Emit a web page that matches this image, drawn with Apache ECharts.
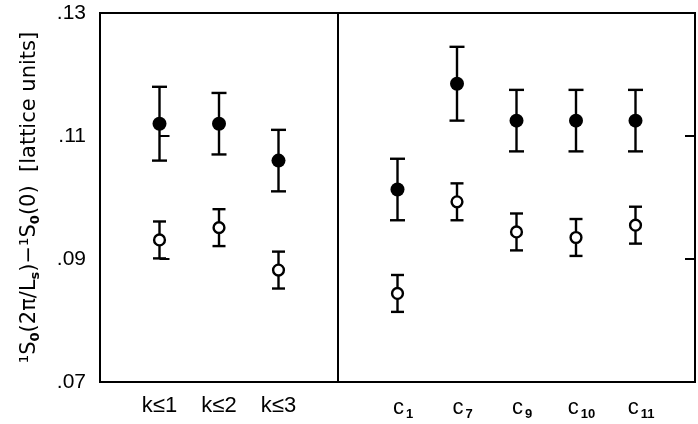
<!DOCTYPE html>
<html>
<head>
<meta charset="utf-8">
<script src="https://cdn.jsdelivr.net/npm/echarts@6/dist/echarts.min.js"></script>
<style>
html,body{margin:0;padding:0;background:#fff;}
#chart{width:698px;height:424px;}
</style>
</head>
<body>
<div id="chart"></div>
<script>
// Categories (empty slot = panel divider)
const categories = ['k≤1', 'k≤2', 'k≤3', '', 'c1', 'c7', 'c9', 'c10', 'c11'];
// Filled circles: value and error
const filledValues = [0.112, 0.112, 0.106, null, 0.1013, 0.1185, 0.1125, 0.1125, 0.1125];
const filledErrors = [0.006, 0.005, 0.005, null, 0.005, 0.006, 0.005, 0.005, 0.005];
// Open circles: value and error
const openValues = [0.0931, 0.0951, 0.0882, null, 0.0844, 0.0993, 0.0944, 0.0935, 0.0955];
const openErrors = [0.003, 0.003, 0.003, null, 0.003, 0.003, 0.003, 0.003, 0.003];
// Y tick labels
const yTickLabels = ['.07', '.09', '.11', '.13'];
const yBase = 0.07;   // axis origin (values are plotted relative to it)
const yStep = 0.02;

const FONT = '"Liberation Sans", Arial, Helvetica, sans-serif';
const FONT2 = '"DejaVu Sans", sans-serif';

function buildData(vals, errs) {
  const out = [];
  vals.forEach((v, i) => { if (v != null) out.push([i, v, errs[i]]); });
  return out;
}

function makeRender(filled) {
  return function (params, api) {
    const x = api.value(0), v = api.value(1), e = api.value(2);
    const c = api.coord([x, v - yBase]);
    const t = api.coord([x, v + e - yBase]);
    const b = api.coord([x, v - e - yBase]);
    const hw = filled ? 7.5 : 6.5;
    const ls = { stroke: '#000', lineWidth: 2.4 };
    return {
      type: 'group',
      children: [
        { type: 'line', shape: { x1: t[0], y1: t[1], x2: b[0], y2: b[1] }, style: ls },
        { type: 'line', shape: { x1: t[0] - hw, y1: t[1], x2: t[0] + hw, y2: t[1] }, style: ls },
        { type: 'line', shape: { x1: b[0] - hw, y1: b[1], x2: b[0] + hw, y2: b[1] }, style: ls },
        filled
          ? { type: 'circle', shape: { cx: c[0], cy: c[1], r: 7 }, style: { fill: '#000' } }
          : { type: 'circle', shape: { cx: c[0], cy: c[1], r: 5.4 }, style: { fill: '#fff', stroke: '#000', lineWidth: 2.4 } }
      ]
    };
  };
}

const dividerIndex = categories.indexOf('');

const chart = echarts.init(document.getElementById('chart'), null, { renderer: 'canvas' });
chart.setOption({
  animation: false,
  backgroundColor: '#fff',
  textStyle: { fontFamily: FONT, color: '#000' },
  grid: { left: 100, right: 1, top: 13, bottom: 42, show: true, borderColor: '#000', borderWidth: 2, containLabel: false },
  xAxis: {
    type: 'value', min: -1, max: categories.length, interval: 1,
    axisLine: { show: false }, axisTick: { show: false }, splitLine: { show: false },
    axisLabel: {
      margin: 13, color: '#000', fontFamily: FONT, fontSize: 22,
      formatter: function (v) {
        const s = categories[v];
        if (!s) return '';
        const m = s.match(/^c(\d+)$/);
        if (m) return '{c|c}{s|' + m[1] + '}';
        return s;
      },
      rich: {
        c: { fontSize: 22, fontFamily: FONT, color: '#000', padding: [0, 0, 0, 11] },
        s: { fontSize: 13, fontWeight: 'bold', fontFamily: FONT, color: '#000', padding: [13, 0, 0, 2] }
      }
    }
  },
  yAxis: [
    {
      type: 'value', min: 0, max: yStep * (yTickLabels.length - 1), interval: yStep,
      axisLine: { show: false }, splitLine: { show: false },
      axisTick: { show: true, inside: true, length: 10, lineStyle: { color: '#000', width: 2 } },
      axisLabel: {
        margin: 14, color: '#000', fontFamily: FONT, fontSize: 21,
        formatter: function (v) { return yTickLabels[Math.round(v / yStep)]; }
      },
      name: '{n|¹S}{sb|0}{n|(2π/L}{sb|s}{n|)−¹S}{sb|0}{n|(0)  [lattice units]}',
      nameLocation: 'middle', nameRotate: 90, nameGap: 58,
      nameTextStyle: {
        rich: {
          n: { fontSize: 21, fontFamily: FONT2, color: '#000' },
          sb: { fontSize: 13, fontWeight: 'bold', fontFamily: FONT2, color: '#000', padding: [11, 0, 0, 0] }
        }
      }
    },
    {
      type: 'value', position: 'right', min: 0, max: yStep * (yTickLabels.length - 1), interval: yStep,
      axisLine: { show: false }, splitLine: { show: false },
      axisTick: { show: true, inside: true, length: 10, lineStyle: { color: '#000', width: 2 } },
      axisLabel: { show: false }
    }
  ],
  series: [
    {
      type: 'custom', name: 'filled', renderItem: makeRender(true),
      data: buildData(filledValues, filledErrors), z: 3,
      markLine: {
        silent: true, symbol: 'none', label: { show: false },
        lineStyle: { color: '#000', width: 2, type: 'solid' },
        data: [{ xAxis: dividerIndex }]
      }
    },
    {
      type: 'custom', name: 'open', renderItem: makeRender(false),
      data: buildData(openValues, openErrors), z: 3
    }
  ]
});
</script>
</body>
</html>
